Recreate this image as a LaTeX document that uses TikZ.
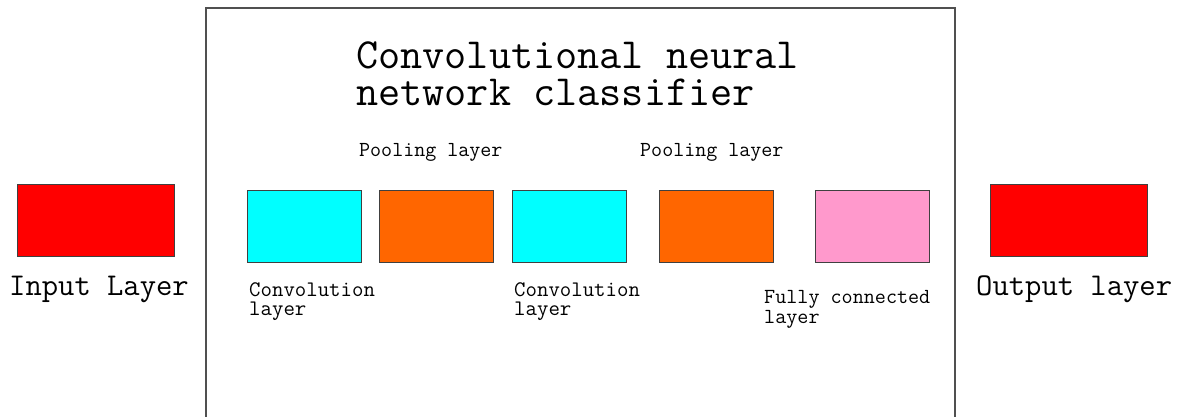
\documentclass[tikz,border=0pt]{standalone}
\definecolor{boxline}{HTML}{404040}
\definecolor{frameline}{HTML}{505050}
\definecolor{cyanfill}{HTML}{00FFFF}
\definecolor{orangefill}{HTML}{FF6600}
\definecolor{pinkfill}{HTML}{FF99CC}
\definecolor{redfill}{HTML}{FF0000}
\tikzset{
  layerbox/.style={draw=boxline, line width=1pt, inner sep=0pt, minimum width=114pt, minimum height=72pt, anchor=north west},
  bigbox/.style={layerbox, minimum width=157pt},
  lbl/.style={anchor=base west, inner sep=0pt, align=left, text=black},
}
\begin{document}
\begin{tikzpicture}[x=1pt, y=-1pt]
\useasboundingbox (0,0) rectangle (1185,417);
\fill[white] (0,0) rectangle (1185,417);
% frame
\coordinate (fbl) at (206,420);
\coordinate (ftl) at (206,8);
\coordinate (ftr) at (955,8);
\coordinate (fbr) at (955,420);
\draw[frameline, line width=1.3pt] (fbl) -- (ftl) -- (ftr) -- (fbr);
% title (base = last line)
\node[lbl, font=\fontsize{43}{37}\selectfont\ttfamily] (title) at (356,106) {Convolutional neural\\network classifier};
% input / output
\node[bigbox, fill=redfill] (in) at (17,184) {};
\node[bigbox, fill=redfill] (out) at (990,184) {};
\node[lbl, font=\fontsize{31.7}{36}\selectfont\ttfamily] (inl) at (9,295) {Input Layer};
\node[lbl, font=\fontsize{31.7}{36}\selectfont\ttfamily] (outl) at (976,295) {Output layer};
% inner layers
\node[layerbox, fill=cyanfill] (conv1) at (247,190) {};
\node[layerbox, fill=orangefill] (pool1) at (379,190) {};
\node[layerbox, fill=cyanfill] (conv2) at (512,190) {};
\node[layerbox, fill=orangefill] (pool2) at (659,190) {};
\node[layerbox, fill=pinkfill] (fc) at (815,190) {};
% labels
\node[lbl, font=\fontsize{21.4}{20}\selectfont\ttfamily] (pool1l) at (359,157) {Pooling layer};
\node[lbl, font=\fontsize{21.4}{20}\selectfont\ttfamily] (pool2l) at (640,157) {Pooling layer};
\node[lbl, font=\fontsize{22.2}{19}\selectfont\ttfamily] (conv1l) at (249,315) {Convolution\\layer};
\node[lbl, font=\fontsize{22.2}{19}\selectfont\ttfamily] (conv2l) at (514,315) {Convolution\\layer};
\node[lbl, font=\fontsize{21.5}{20}\selectfont\ttfamily] (fcl) at (764,323) {Fully connected\\layer};
\end{tikzpicture}
\end{document}
